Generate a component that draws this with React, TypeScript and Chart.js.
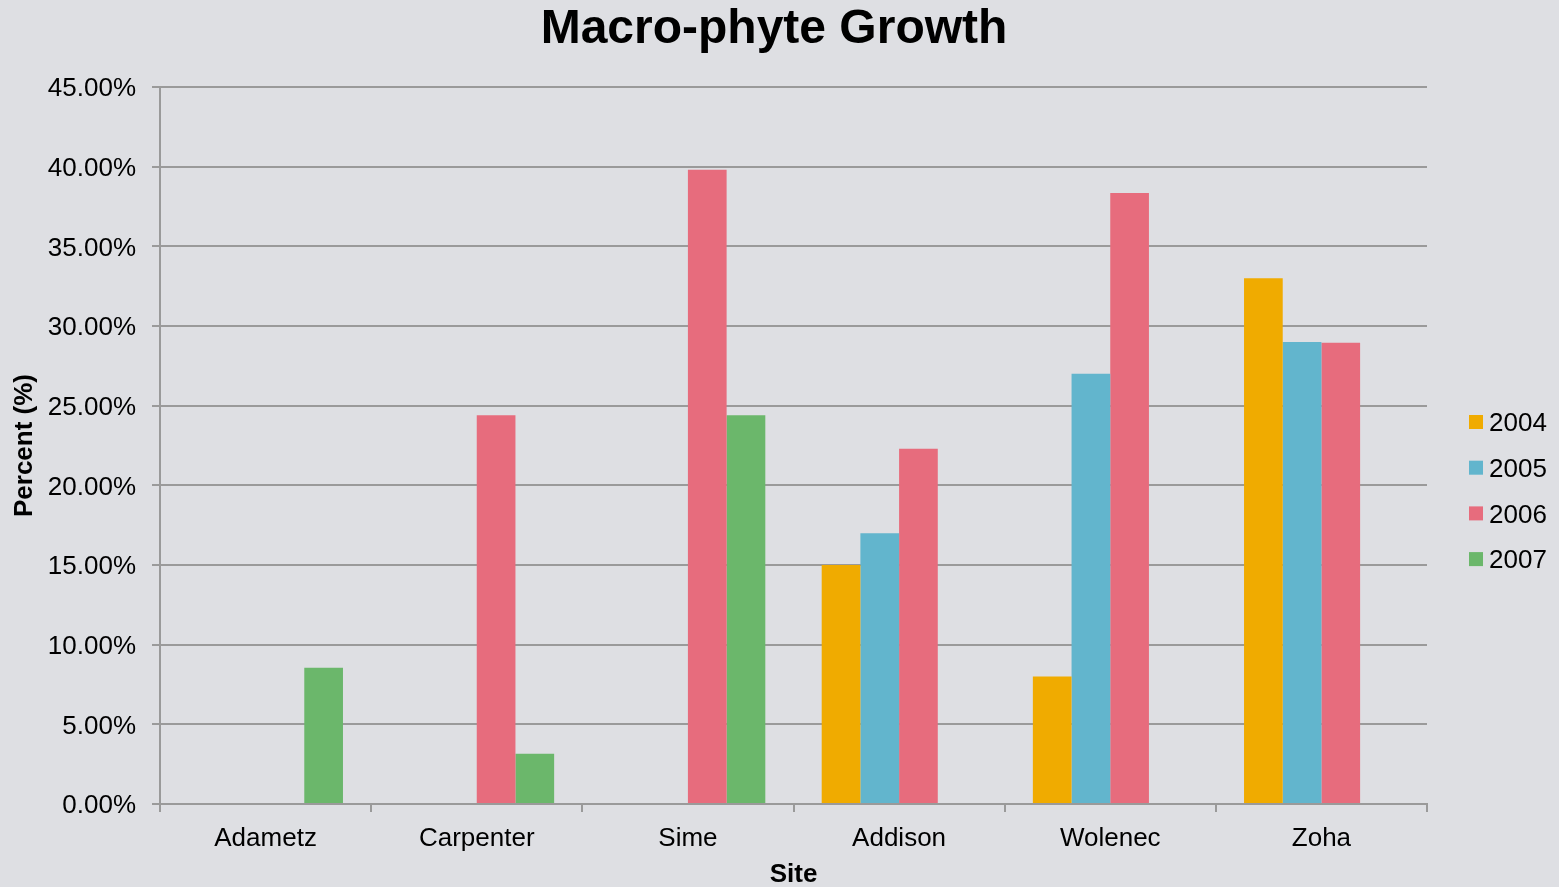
import React, { useEffect, useRef } from 'react';
import { Chart, registerables } from 'chart.js';
Chart.register(...registerables);

const categories = ['Adametz', 'Carpenter', 'Sime', 'Addison', 'Wolenec', 'Zoha'];
const seriesNames = ['2004', '2005', '2006', '2007'];
const values2004 = [null, null, null, 15.0, 8.0, 33.0];
const values2005 = [null, null, null, 17.0, 27.0, 29.0];
const values2006 = [null, 24.4, 39.8, 22.3, 38.35, 28.95];
const values2007 = [8.55, 3.15, 24.4, null, null, null];
const seriesColors = ['#F0AB00', '#62B5CD', '#E76C7D', '#6BB76B'];
const yMax = 45;
const yStep = 5;
const titleText = 'Macro-phyte Growth';
const xTitle = 'Site';
const yTitle = 'Percent (%)';

const FONT = 'Arial, "Liberation Sans", sans-serif';
const BG = '#dedfe3';
const GRID = '#9a9a9a';

export default function App() {
  const ref = useRef<HTMLCanvasElement | null>(null);
  useEffect(() => {
    document.body.style.margin = '0';
    document.body.style.background = BG;
    const canvas = ref.current!;
    const allValues = [values2004, values2005, values2006, values2007];

    const bgPlugin = {
      id: 'bg',
      beforeDraw(chart: any) {
        const ctx = chart.ctx;
        ctx.save();
        ctx.fillStyle = BG;
        ctx.fillRect(0, 0, chart.width, chart.height);
        ctx.restore();
      },
    };
    const overlayPlugin = {
      id: 'overlay',
      afterDraw(chart: any) {
        const ctx = chart.ctx;
        ctx.save();
        ctx.fillStyle = '#000';
        ctx.font = `bold 48px ${FONT}`;
        ctx.textAlign = 'center';
        ctx.textBaseline = 'middle';
        ctx.fillText(titleText, 774, 30);
        // legend
        ctx.font = `26px ${FONT}`;
        ctx.textAlign = 'left';
        chart.data.datasets.forEach((ds: any, i: number) => {
          const cy = 422 + i * 45.7;
          ctx.fillStyle = ds.backgroundColor;
          ctx.fillRect(1469, cy - 7, 14, 14);
          ctx.fillStyle = '#000';
          ctx.fillText(ds.label, 1489, cy + 2);
        });
        ctx.restore();
      },
    };

    const chart = new Chart(canvas, {
      type: 'bar',
      data: {
        labels: categories,
        datasets: seriesNames.map((name, i) => ({
          label: name,
          data: allValues[i],
          backgroundColor: seriesColors[i],
          borderWidth: 0,
          categoryPercentage: 0.733,
          barPercentage: 1.0,
        })),
      },
      options: {
        responsive: false,
        animation: false,
        devicePixelRatio: 1,
        layout: { padding: { top: 87, right: 132, left: 0, bottom: 0 } },
        plugins: {
          legend: { display: false },
          title: { display: false },
          tooltip: { enabled: false },
        },
        scales: {
          x: {
            afterFit(scale: any) {
              scale.height = 83;
            },
            grid: {
              display: true,
              drawOnChartArea: false,
              drawTicks: true,
              tickLength: 8,
              color: GRID,
              lineWidth: 2,
              offset: true,
            },
            border: { display: true, color: GRID, width: 2 },
            ticks: {
              color: '#000',
              font: { family: FONT, size: 26 },
              padding: 11,
              maxRotation: 0,
            },
            title: {
              display: true,
              text: xTitle,
              color: '#000',
              font: { family: FONT, size: 26, weight: 'bold', lineHeight: 0.9 },
              padding: { top: 0, bottom: 0 },
            },
          },
          y: {
            min: 0,
            max: yMax,
            afterFit(scale: any) {
              scale.width = 160;
            },
            grid: {
              color: GRID,
              lineWidth: 2,
              tickLength: 8,
            },
            border: { display: true, color: GRID, width: 2 },
            ticks: {
              stepSize: yStep,
              color: '#000',
              font: { family: FONT, size: 26 },
              padding: 16,
              labelOffset: 2,
              callback: (v: any) => Number(v).toFixed(2) + '%',
            },
            title: {
              display: true,
              text: yTitle,
              color: '#000',
              font: { family: FONT, size: 26, weight: 'bold', lineHeight: 1 },
              padding: { top: 12, bottom: 0 },
            },
          },
        },
      },
      plugins: [bgPlugin, overlayPlugin],
    } as any);
    return () => chart.destroy();
  }, []);
  return (
    <div style={{ width: 1559, height: 887, position: 'relative' }}>
      <canvas ref={ref} width={1559} height={887} style={{ display: 'block' }} />
    </div>
  );
}
